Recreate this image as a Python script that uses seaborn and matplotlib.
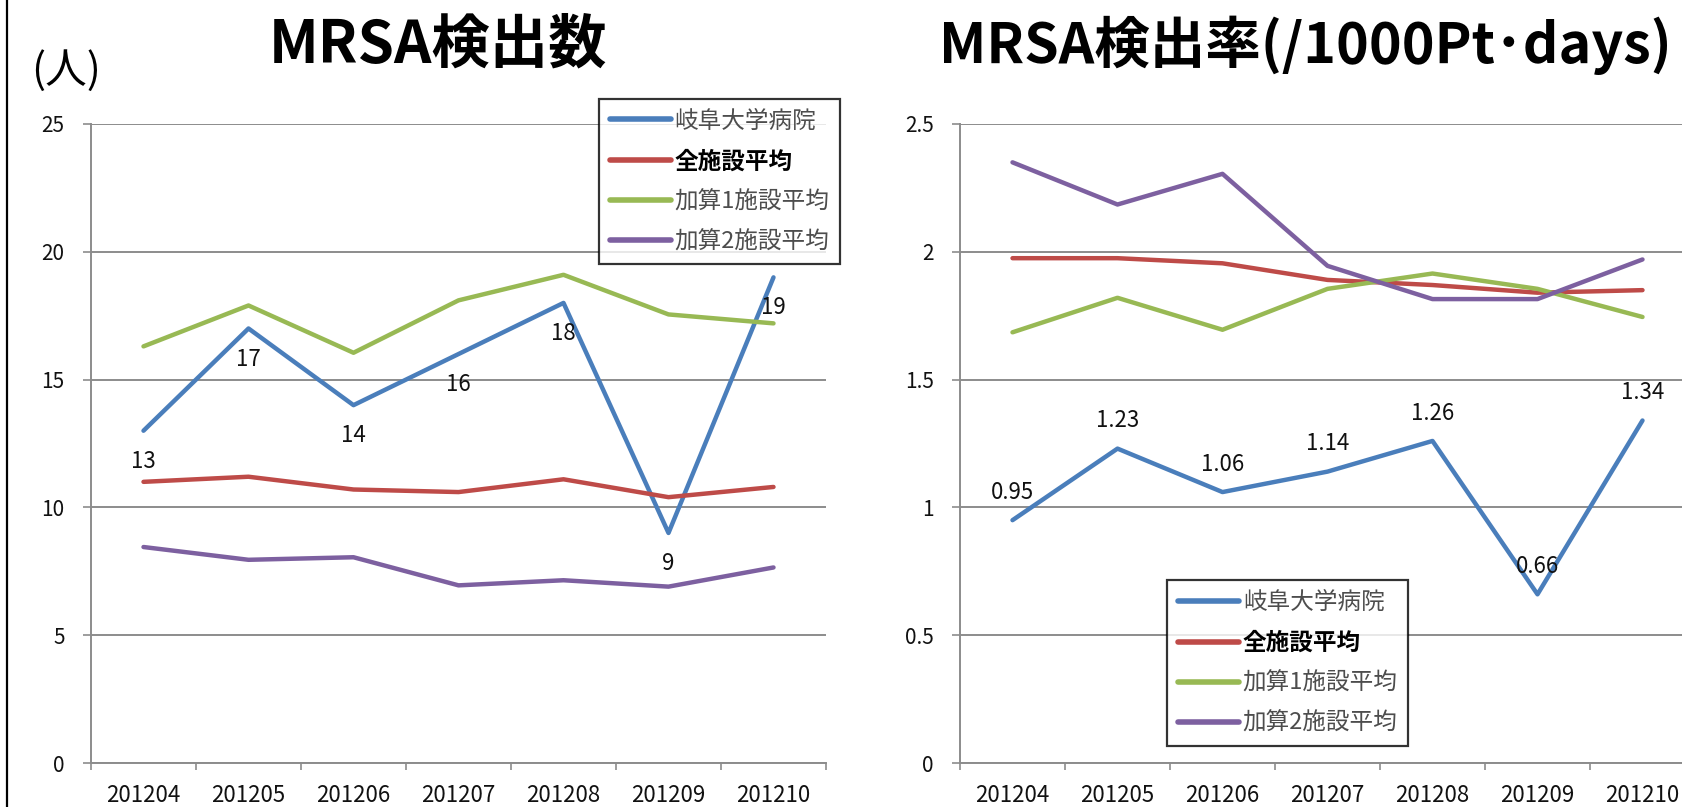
import numpy as np
import pandas as pd
import seaborn as sns
import matplotlib
import matplotlib.pyplot as plt
from matplotlib.lines import Line2D
from matplotlib.ticker import FuncFormatter, MultipleLocator, FixedLocator

matplotlib.use('Agg')

months = ['201204', '201205', '201206', '201207', '201208', '201209', '201210']
series = ['岐阜大学病院', '全施設平均', '加算1施設平均', '加算2施設平均']
colors = ['#4A7EBB', '#BE4B48', '#98B954', '#7D60A0']

# MRSA検出数 (人)
count_gifu = [13, 17, 14, 16, 18, 9, 19]
count_all = [11.0, 11.2, 10.7, 10.6, 11.1, 10.4, 10.8]
count_add1 = [16.3, 17.9, 16.05, 18.1, 19.1, 17.55, 17.2]
count_add2 = [8.45, 7.95, 8.05, 6.95, 7.15, 6.9, 7.65]

# MRSA検出率 (/1000Pt・days)
rate_gifu = [0.95, 1.23, 1.06, 1.14, 1.26, 0.66, 1.34]
rate_all = [1.975, 1.975, 1.955, 1.89, 1.87, 1.84, 1.85]
rate_add1 = [1.685, 1.82, 1.695, 1.855, 1.915, 1.855, 1.745]
rate_add2 = [2.35, 2.185, 2.305, 1.945, 1.815, 1.815, 1.97]

sns.set_style('white')
plt.rcParams['font.family'] = ['Noto Sans CJK JP', 'DejaVu Sans']

W, H = 1682, 807
fig = plt.figure(figsize=(W / 100, H / 100), dpi=100)
fig.patch.set_facecolor('white')

GRID = '#8C8C8C'


def long_df(vals):
    rows = []
    for name, v in zip(series, vals):
        for m, y in zip(months, v):
            rows.append({'month': m, 'value': y, 'series': name})
    return pd.DataFrame(rows)


def draw(ax, df, ymax, ystep, fmt):
    sns.lineplot(data=df, x='month', y='value', hue='series', hue_order=series,
                 palette=colors, linewidth=3.2, sort=False, ax=ax, legend=False)
    ax.set_xlim(-0.5, 6.5)
    ax.set_ylim(0, ymax)
    ax.yaxis.set_major_locator(MultipleLocator(ystep))
    ax.yaxis.set_major_formatter(FuncFormatter(fmt))
    ax.xaxis.set_minor_locator(FixedLocator(np.arange(-0.5, 7, 1)))
    ax.grid(axis='y', color=GRID, linewidth=1.4)
    ax.set_axisbelow(True)
    for s in ['top', 'right']:
        ax.spines[s].set_visible(False)
    for s in ['left', 'bottom']:
        ax.spines[s].set_color(GRID)
        ax.spines[s].set_linewidth(1.4)
    ax.tick_params(axis='x', which='major', length=0, pad=15, labelsize=16, labelcolor='#111111')
    ax.tick_params(axis='x', which='minor', length=5, width=1.2, color=GRID, direction='out', bottom=True)
    ax.tick_params(axis='y', length=6, width=1.2, color=GRID, direction='out', left=True,
                   pad=13, labelsize=15, labelcolor='#111111')
    ax.set_xlabel('')
    ax.set_ylabel('')
    ax.set_facecolor('white')


def add_legend(ax, loc, anchor):
    handles = [Line2D([], [], color=c, linewidth=4) for c in colors]
    leg = ax.legend(handles, series, loc=loc, bbox_to_anchor=anchor, frameon=True,
                    fancybox=False, edgecolor='black', fontsize=17, handlelength=2.6,
                    handletextpad=0.15, labelspacing=0.72, borderpad=0.45,
                    borderaxespad=0)
    leg.get_frame().set_linewidth(1.6)
    for i, t in enumerate(leg.get_texts()):
        if i == 1:
            t.set_color('black')
            t.set_fontweight('bold')
        else:
            t.set_color('#4D4D4D')
    return leg


ax1 = fig.add_axes([91 / W, 44 / H, 735 / W, 639 / H])
ax2 = fig.add_axes([960 / W, 44 / H, 735 / W, 639 / H])

draw(ax1, long_df([count_gifu, count_all, count_add1, count_add2]), 25, 5, lambda v, p: f'{v:g}')
draw(ax2, long_df([rate_gifu, rate_all, rate_add1, rate_add2]), 2.5, 0.5, lambda v, p: f'{v:g}')

for m, v in zip(months, count_gifu):
    ax1.annotate(f'{v}', (m, v), xytext=(0, -22), textcoords='offset points',
                 ha='center', va='center', fontsize=16, color='#111111')
for m, v in zip(months, rate_gifu):
    ax2.annotate(f'{v:.2f}', (m, v), xytext=(0, 20), textcoords='offset points',
                 ha='center', va='center', fontsize=16, color='#111111')

add_legend(ax1, 'upper right', (1.019, 1.039))
add_legend(ax2, 'lower left', (0.282, 0.027))

fig.text(438 / W, 1 - 45 / H, 'MRSA検出数', ha='center', va='center',
         fontsize=42, fontweight='bold', color='black')
fig.text(1672 / W, 1 - 45 / H, 'MRSA検出率(/1000Pt･days)', ha='right', va='center',
         fontsize=40, fontweight='bold', color='black')
fig.text(66 / W, 1 - 71 / H, '(人)', ha='center', va='center', fontsize=30, color='black')

fig.add_artist(Line2D([7 / W, 7 / W], [0, 1], transform=fig.transFigure, color='black', linewidth=1.6))

fig.savefig('out.png', dpi=100)
